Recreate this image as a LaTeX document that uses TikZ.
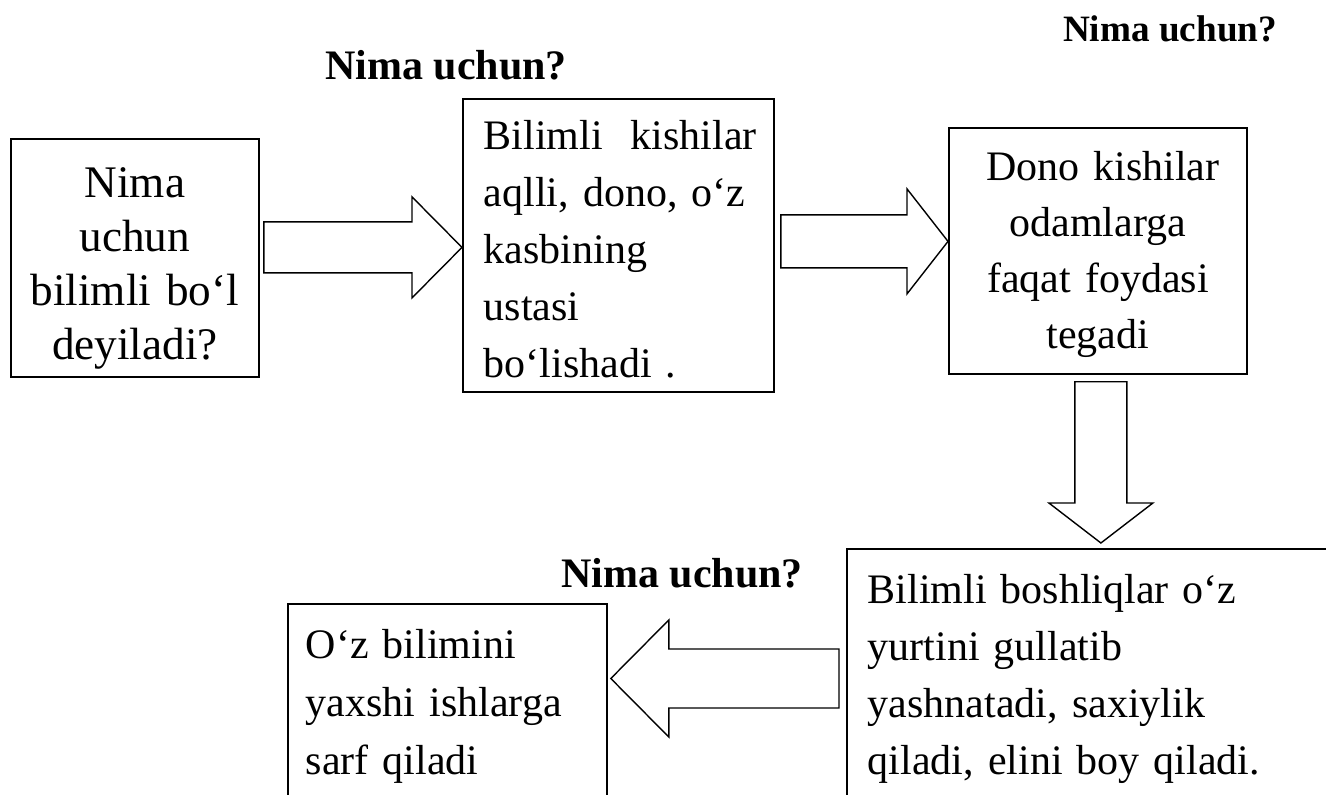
\documentclass[tikz,border=0pt]{standalone}
\usepackage{fontspec}
\setmainfont{Liberation Serif}
\usetikzlibrary{calc}
\newcommand\Lhgt[1]{\rule{0pt}{#1}}
\newcommand\Ldpt[1]{\rule[-#1]{0pt}{#1}}
% #1 tail, #2 tip, #3 shaft half width, #4 head half width, #5 head length
\newcommand\blockarrow[5]{%
  \coordinate (bah) at ($(#2)!#5!(#1)$);
  \draw[barrow] ($(#1)!#3!90:(#2)$) -- ($(bah)!#3!90:(#2)$) -- ($(bah)!#4!90:(#2)$) -- (#2)
     -- ($(bah)!#4!-90:(#2)$) -- ($(bah)!#3!-90:(#2)$) -- ($(#1)!#3!-90:(#2)$) -- cycle;}
\tikzset{
  box/.style={draw, line width=0.9pt, inner ysep=0pt, anchor=north west},
  lbox/.style={box, align=left},
  cbox/.style={box, align=center},
  barrow/.style={draw, line width=0.7pt, fill=white, line join=miter},
  qlabel/.style={anchor=base, inner sep=0pt},
}
\begin{document}
\begin{tikzpicture}[x=0.5pt, y=-0.5pt]
\useasboundingbox (0,0) rectangle (1326,795);
\clip (0,0) rectangle (1326,795);

% boxes
\node[cbox, text width=120pt, inner xsep=2pt, font=\fontsize{22.6}{27}\selectfont] (A) at (10,138)
  {\Lhgt{29.5pt}Nima\\ uchun\\ bilimli bo‘l\hspace{11pt}\\ deyiladi?\Ldpt{8.5pt}};
\node[lbox, text width=134.5pt, inner xsep=10.5pt, font=\fontsize{21}{28.5}\selectfont] (B) at (462,98)
  {\Lhgt{25.5pt}\mbox{Bilimli\ \ kishilar}\\ aqlli, dono, o‘z\\ kasbining\\ ustasi\\ bo‘lishadi .\Ldpt{7pt}};
\node[cbox, text width=139pt, inner xsep=5pt, font=\fontsize{21}{28}\selectfont] (C) at (948,127)
  {\Lhgt{26.5pt}\hspace{5pt}Dono kishilar\\ odamlarga\\ faqat foydasi\\ tegadi\Ldpt{12.5pt}};
\node[lbox, text width=240pt, inner xsep=10.5pt, font=\fontsize{21}{28.5}\selectfont] (D) at (846,548)
  {\Lhgt{27.5pt}Bilimli boshliqlar o‘z\\ yurtini gullatib\\ yashnatadi, saxiylik\\ qiladi, elini boy qiladi.\Ldpt{30pt}};
\node[lbox, text width=141.5pt, inner xsep=9pt, font=\fontsize{21}{29}\selectfont] (E) at (287,603)
  {\Lhgt{27.5pt}O‘z bilimini\\ yaxshi ishlarga\\ sarf qiladi\Ldpt{30pt}};

% labels
\node[qlabel, font=\bfseries\fontsize{21}{25}\selectfont] (q1) at (446,80) {Nima uchun?};
\node[qlabel, font=\bfseries\fontsize{18.6}{22}\selectfont] (q2) at (1170,42) {Nima uchun?};
\node[qlabel, font=\bfseries\fontsize{21}{25}\selectfont] (q3) at (682,588) {Nima uchun?};

% block arrows
\coordinate (t1) at ($(A.east |- B.west)+(4,2)$);
\coordinate (h1) at ($(B.west)+(0,2)$);
\blockarrow{t1}{h1}{12.75pt}{25.25pt}{25pt}

\coordinate (t2) at ($(B.east |- C.west)+(6,-9.5)$);
\coordinate (h2) at ($(C.west)+(0,-9.5)$);
\blockarrow{t2}{h2}{13.25pt}{26.25pt}{20.5pt}

\coordinate (t3) at ($(C.south)+(3,7)$);
\coordinate (h3) at ($(C.south |- D.north)+(3,-5)$);
\blockarrow{t3}{h3}{13pt}{26pt}{20pt}

\coordinate (t4) at ($(D.north west)+(-7,130.5)$);
\coordinate (h4) at ($(E.north east)+(3,75.5)$);
\blockarrow{t4}{h4}{14.75pt}{29.25pt}{29pt}
\end{tikzpicture}
\end{document}
